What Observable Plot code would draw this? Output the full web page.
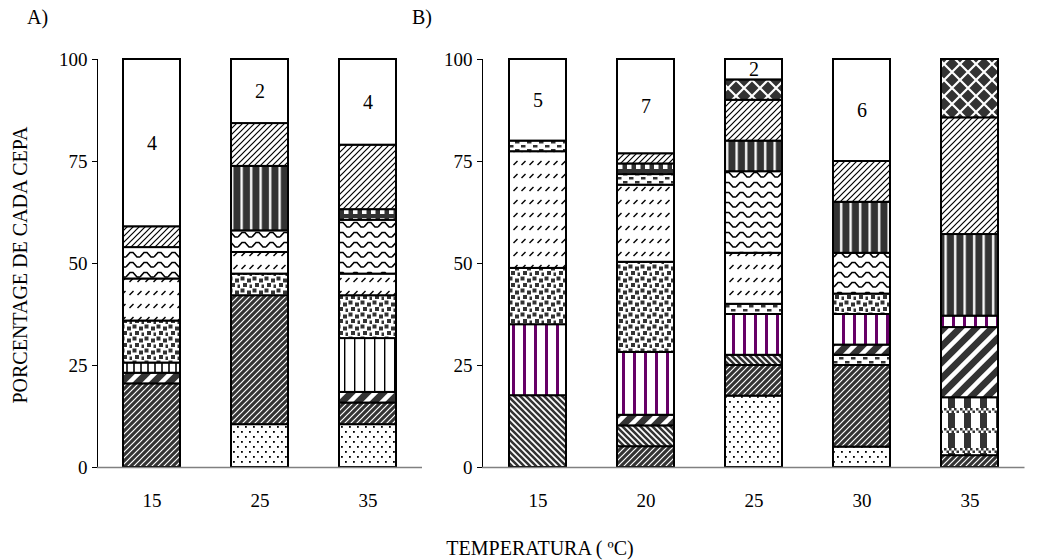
<!DOCTYPE html>
<html><head><meta charset="utf-8">
<script src="https://cdn.jsdelivr.net/npm/d3@7"></script>
<script src="https://cdn.jsdelivr.net/npm/@observablehq/plot@0.6"></script>
<style>
body{margin:0;background:#fff;font-family:"Liberation Serif","Times New Roman",serif;}
#wrap{position:relative;width:1052px;height:560px;overflow:hidden;background:#fff;}
.t{position:absolute;font-size:20px;line-height:22px;white-space:nowrap;color:#000;font-family:"Liberation Serif","Times New Roman",serif;}
#pa,#pb{position:absolute;top:0;}
#pa{left:0;} #pb{left:400px;}
</style></head><body>
<div id="wrap">
  <div class="t" style="left:27px;top:6px;">A)</div>
  <div class="t" style="left:412px;top:6px;">B)</div>
  <div class="t" style="left:20px;top:265px;transform:translate(-50%,-50%) rotate(-90deg);">PORCENTAGE DE CADA CEPA</div>
  <div class="t" style="left:540px;top:548px;transform:translate(-50%,-50%);">TEMPERATURA ( ºC)</div>
  <div id="pa"></div>
  <div id="pb"></div>
</div>
<svg width="0" height="0" style="position:absolute;left:0;top:0" id="defs"></svg>
<script>
// ---- data ----
const tempsA = ["15", "25", "35"];
const tempsB = ["15", "20", "25", "30", "35"];
const yTicks = [0, 25, 50, 75, 100];

// strains (bottom -> top) and their percentage in each bar
const cepasA15 = ["c8", "c7", "c6", "c5", "c4", "c3", "c2", "c1"];
const pctA15   = [20.5, 2.6, 2.5, 10.3, 10.3, 7.7, 5.1, 41.0];
const cepasA25 = ["c9", "c8", "c5", "c4", "c3", "c10", "c2", "c1"];
const pctA25   = [10.5, 31.6, 5.3, 5.3, 5.3, 15.8, 10.5, 15.7];
const cepasA35 = ["c9", "c8", "c7", "c11", "c5", "c4", "c3", "c12", "c2", "c1"];
const pctA35   = [10.5, 5.3, 2.6, 13.2, 10.5, 5.3, 13.2, 2.6, 15.8, 21.0];

const cepasB15 = ["c14", "c13", "c5", "c4", "c15", "c1"];
const pctB15   = [17.6, 17.4, 13.8, 28.6, 2.6, 20.0];
const cepasB20 = ["c8", "c14", "c7", "c13", "c5", "c4", "c15", "c12", "c2", "c1"];
const pctB20   = [5.1, 5.1, 2.6, 15.4, 22.1, 18.9, 2.6, 2.6, 2.5, 23.1];
const cepasB25 = ["c9", "c8", "c14", "c13", "c15", "c4", "c3", "c10", "c2", "c16", "c1"];
const pctB25   = [17.5, 7.5, 2.5, 10.0, 2.5, 12.5, 20.0, 7.5, 10.0, 5.0, 5.0];
const cepasB30 = ["c9", "c8", "c15", "c7", "c13", "c5", "c3", "c10", "c2", "c1"];
const pctB30   = [5.0, 20.0, 2.5, 2.5, 7.5, 5.0, 10.0, 12.5, 10.0, 25.0];
const cepasB35 = ["c8", "c17", "c7", "c13", "c10", "c2", "c16"];
const pctB35   = [2.9, 14.2, 17.2, 2.8, 20.0, 28.6, 14.3];

// number of strains written in the top segment
const labelsA = ["4", "2", "4"];
const labelsB = ["5", "7", "2", "6", ""];

// ---- styles (patterns per strain) ----
const D = "#333333";
const PUR = "#660066";
document.getElementById("defs").innerHTML = `
<defs>
<pattern id="p2" width="6" height="6" patternUnits="userSpaceOnUse">
  <rect width="6" height="6" fill="white"/>
  <path d="M0,6 L6,0 M-1,1 L1,-1 M5,7 L7,5" stroke="black" stroke-width="1.2"/>
</pattern>
<pattern id="p3" width="14" height="10" patternUnits="userSpaceOnUse">
  <rect width="14" height="10" fill="white"/>
  <path d="M0,7 L4,2.5 L7,2.5 L11,7 L14,7" fill="none" stroke="black" stroke-width="1.6"/>
</pattern>
<pattern id="p4" width="8" height="13" patternUnits="userSpaceOnUse">
  <rect width="8" height="13" fill="white"/>
  <path d="M1.5,9 L5.5,5" stroke="black" stroke-width="1.5"/>
</pattern>
<pattern id="p5" width="12" height="12" patternUnits="userSpaceOnUse">
  <rect width="12" height="12" fill="white"/>
  <rect x="0.5" y="0.5" width="4" height="4" fill="${D}"/>
  <rect x="7" y="2.5" width="4" height="4" fill="${D}"/>
  <rect x="3" y="7" width="4" height="4" fill="${D}"/>
  <rect x="9.5" y="8.5" width="2.5" height="3.5" fill="${D}"/>
</pattern>
<pattern id="p6" width="7" height="10" patternUnits="userSpaceOnUse">
  <rect width="7" height="10" fill="white"/>
  <rect x="0" y="0" width="2" height="10" fill="${D}"/>
</pattern>
<pattern id="p7" width="16" height="16" patternUnits="userSpaceOnUse">
  <rect width="16" height="16" fill="${D}"/>
  <path d="M0,16 L16,0 M-4,4 L4,-4 M12,20 L20,12" stroke="white" stroke-width="4.5"/>
</pattern>
<pattern id="p8" width="6" height="6" patternUnits="userSpaceOnUse">
  <rect width="6" height="6" fill="${D}"/>
  <path d="M0,6 L6,0 M-1,1 L1,-1 M5,7 L7,5" stroke="white" stroke-width="1.2"/>
</pattern>
<pattern id="p9" width="8" height="10" patternUnits="userSpaceOnUse">
  <rect width="8" height="10" fill="white"/>
  <rect x="1" y="1" width="1.8" height="1.8" fill="black"/>
  <rect x="5" y="6" width="1.8" height="1.8" fill="black"/>
</pattern>
<pattern id="p10" width="9.5" height="10" patternUnits="userSpaceOnUse">
  <rect width="9.5" height="10" fill="${D}"/>
  <rect x="3" y="0" width="2.3" height="10" fill="white"/>
</pattern>
<pattern id="p11" width="10" height="10" patternUnits="userSpaceOnUse">
  <rect width="10" height="10" fill="white"/>
  <rect x="4" y="0" width="1.4" height="10" fill="black"/>
</pattern>
<pattern id="p12" width="9" height="9" patternUnits="userSpaceOnUse">
  <rect width="9" height="9" fill="${D}"/>
  <rect x="2" y="2" width="4.5" height="5" fill="white"/>
</pattern>
<pattern id="p13" width="11" height="10" patternUnits="userSpaceOnUse">
  <rect width="11" height="10" fill="white"/>
  <rect x="2" y="0" width="3" height="10" fill="${PUR}"/>
</pattern>
<pattern id="p14" width="6" height="6" patternUnits="userSpaceOnUse">
  <rect width="6" height="6" fill="white"/>
  <path d="M0,0 L6,6 M-1,5 L1,7 M5,-1 L7,1" stroke="${D}" stroke-width="2.6"/>
</pattern>
<pattern id="p15" width="12" height="8" patternUnits="userSpaceOnUse">
  <rect width="12" height="8" fill="white"/>
  <rect x="1" y="1" width="4.5" height="2.5" fill="${D}"/>
  <rect x="7" y="5" width="4.5" height="2.5" fill="${D}"/>
</pattern>
<pattern id="p16" width="16" height="16" patternUnits="userSpaceOnUse">
  <rect width="16" height="16" fill="${D}"/>
  <path d="M0,0 L16,16 M16,0 L0,16" stroke="white" stroke-width="2.2"/>
</pattern>
<pattern id="p17" width="16" height="20" patternUnits="userSpaceOnUse">
  <rect width="16" height="20" fill="white"/>
  <rect x="4" y="0" width="7" height="20" fill="${D}"/>
  <rect x="0" y="8" width="16" height="5" fill="white"/>
  <rect x="0" y="8" width="2.5" height="2.5" fill="${D}"/>
  <rect x="5" y="8" width="2.5" height="2.5" fill="${D}"/>
  <rect x="10" y="8" width="2.5" height="2.5" fill="${D}"/>
  <rect x="2.5" y="10.5" width="2.5" height="2.5" fill="${D}"/>
  <rect x="7.5" y="10.5" width="2.5" height="2.5" fill="${D}"/>
  <rect x="12.5" y="10.5" width="2.5" height="2.5" fill="${D}"/>
</pattern>
</defs>`;

const patternOf = {
  c1: "white", c2: "url(#p2)", c3: "url(#p3)", c4: "url(#p4)", c5: "url(#p5)",
  c6: "url(#p6)", c7: "url(#p7)", c8: "url(#p8)", c9: "url(#p9)", c10: "url(#p10)",
  c11: "url(#p11)", c12: "url(#p12)", c13: "url(#p13)", c14: "url(#p14)", c15: "url(#p15)",
  c16: "url(#p16)", c17: "url(#p17)"
};

function rowsOf(temps, cepasList, pctList) {
  return temps.flatMap((t, i) => cepasList[i].map((c, j) => ({temp: t, cepa: c, pct: pctList[i][j]})));
}
function labelRowsOf(temps, pctList, labels) {
  return temps.map((t, i) => {
    const p = pctList[i];
    const top = p[p.length - 1];
    return {temp: t, label: labels[i], y: 100 - top / 2};
  }).filter(d => d.label);
}

function panel(temps, rows, labelRows, width, marginLeft, marginRight) {
  return Plot.plot({
    width, height: 520,
    marginLeft, marginRight, marginTop: 59, marginBottom: 53,
    style: {fontFamily: "'Liberation Serif', 'Times New Roman', serif", fontSize: "19px", background: "none", color: "black", overflow: "visible"},
    x: {domain: temps, paddingInner: 0.472, paddingOuter: 0.24, tickSize: 0, tickPadding: 26, label: null},
    y: {domain: [0, 100], ticks: yTicks, tickSize: 5, tickPadding: 5, label: null, line: true},
    color: {type: "identity"},
    marks: [
      Plot.barY(rows, Plot.stackY({x: "temp", y: "pct", fill: d => patternOf[d.cepa], stroke: "black", strokeWidth: 2, order: null})),
      Plot.ruleY([0], {stroke: "#808080", strokeWidth: 1.5}),
      Plot.text(labelRows, {x: "temp", y: "y", text: "label", fontSize: 20, fill: "black"})
    ]
  });
}

const pctsA = [pctA15, pctA25, pctA35];
const pctsB = [pctB15, pctB20, pctB25, pctB30, pctB35];
const rowsA = rowsOf(tempsA, [cepasA15, cepasA25, cepasA35], pctsA);
const rowsB = rowsOf(tempsB, [cepasB15, cepasB20, cepasB25, cepasB30, cepasB35], pctsB);

document.getElementById("pa").appendChild(panel(tempsA, rowsA, labelRowsOf(tempsA, pctsA, labelsA), 440, 97, 18));
document.getElementById("pb").appendChild(panel(tempsB, rowsB, labelRowsOf(tempsB, pctsB, labelsB), 652, 82, 27.5));
</script>
</body></html>
